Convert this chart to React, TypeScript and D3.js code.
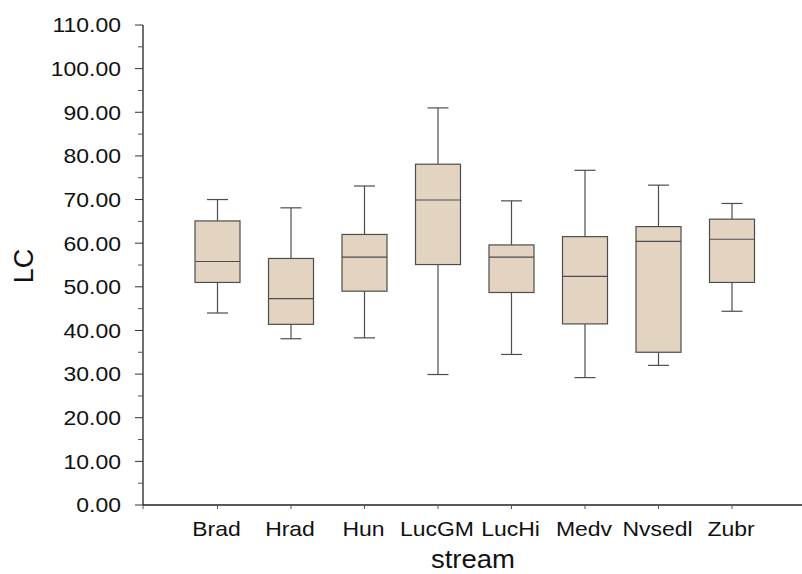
import React from "react";
import * as d3 from "d3";

const categories = ["Brad", "Hrad", "Hun", "LucGM", "LucHi", "Medv", "Nvsedl", "Zubr"];
const whiskerLow = [44.0, 38.1, 38.3, 29.9, 34.5, 29.2, 32.0, 44.4];
const q1 = [51.0, 41.4, 49.0, 55.1, 48.7, 41.5, 35.0, 51.0];
const median = [55.8, 47.3, 56.8, 69.9, 56.8, 52.4, 60.4, 60.9];
const q3 = [65.1, 56.5, 62.0, 78.1, 59.6, 61.5, 63.8, 65.5];
const whiskerHigh = [70.0, 68.1, 73.1, 91.0, 69.7, 76.7, 73.3, 69.1];
const yTicks = [0, 10, 20, 30, 40, 50, 60, 70, 80, 90, 100, 110];
const yMinorTicks = [5, 15, 25, 35, 45, 55, 65, 75, 85, 95, 105];

export default function App() {
  const W = 802, H = 574;
  const axisX = 143, axisY = 505;
  const y = d3.scaleLinear().domain([0, 110]).range([505, 25]);
  const x = d3.scalePoint<string>().domain(categories).range([217.5, 732]);
  const boxW = 45, capW = 21;
  const font = "'Liberation Sans', Arial, sans-serif";
  const stroke = "#4d4d4d";
  const fill = "#e2d4c1";
  const sx = 1.12;

  return (
    <svg width={W} height={H} style={{ position: "absolute", left: 0, top: 0, background: "#fff" }} fontFamily={font}>
      {/* y axis */}
      <line x1={axisX} x2={axisX} y1={y(110)} y2={axisY} stroke="#222" strokeWidth={1.3} />
      {yTicks.map((t) => (
        <g key={t}>
          <line x1={axisX - 8} x2={axisX} y1={y(t)} y2={y(t)} stroke="#333" strokeWidth={1} />
          <text transform={`translate(121,${y(t)}) scale(${sx},1)`} dy="0.36em" textAnchor="end" fontSize={20.5} fill="#111">
            {t.toFixed(2)}
          </text>
        </g>
      ))}
      {yMinorTicks.map((t) => (
        <line key={t} x1={axisX - 5} x2={axisX} y1={y(t)} y2={y(t)} stroke="#555" strokeWidth={1} />
      ))}
      {/* x axis */}
      <line x1={axisX} x2={W} y1={axisY} y2={axisY} stroke="#222" strokeWidth={1.3} />
      <line x1={axisX} x2={axisX} y1={axisY} y2={axisY + 4} stroke="#555" strokeWidth={1} />
      {categories.map((c) => (
        <g key={c}>
          <line x1={x(c)!} x2={x(c)!} y1={axisY} y2={axisY + 4} stroke="#555" strokeWidth={1} />
          <text transform={`translate(${x(c)! - 1},536) scale(${sx},1)`} textAnchor="middle" fontSize={20.5} fill="#111">
            {c}
          </text>
        </g>
      ))}
      {/* boxes */}
      {categories.map((c, i) => {
        const cx = x(c)!;
        return (
          <g key={c}>
            <line x1={cx} x2={cx} y1={y(whiskerHigh[i])} y2={y(q3[i])} stroke={stroke} strokeWidth={1.2} />
            <line x1={cx} x2={cx} y1={y(q1[i])} y2={y(whiskerLow[i])} stroke={stroke} strokeWidth={1.2} />
            <line x1={cx - capW / 2} x2={cx + capW / 2} y1={y(whiskerHigh[i])} y2={y(whiskerHigh[i])} stroke={stroke} strokeWidth={1.2} />
            <line x1={cx - capW / 2} x2={cx + capW / 2} y1={y(whiskerLow[i])} y2={y(whiskerLow[i])} stroke={stroke} strokeWidth={1.2} />
            <rect x={cx - boxW / 2} y={y(q3[i])} width={boxW} height={y(q1[i]) - y(q3[i])} fill={fill} stroke={stroke} strokeWidth={1.2} />
            <line x1={cx - boxW / 2} x2={cx + boxW / 2} y1={y(median[i])} y2={y(median[i])} stroke={stroke} strokeWidth={1.2} />
          </g>
        );
      })}
      {/* axis titles */}
      <text transform={`translate(473,568) scale(1.1,1)`} textAnchor="middle" fontSize={25} fill="#111">stream</text>
      <text transform={`translate(33,266) rotate(-90)`} textAnchor="middle" fontSize={27} fill="#111">LC</text>
    </svg>
  );
}
